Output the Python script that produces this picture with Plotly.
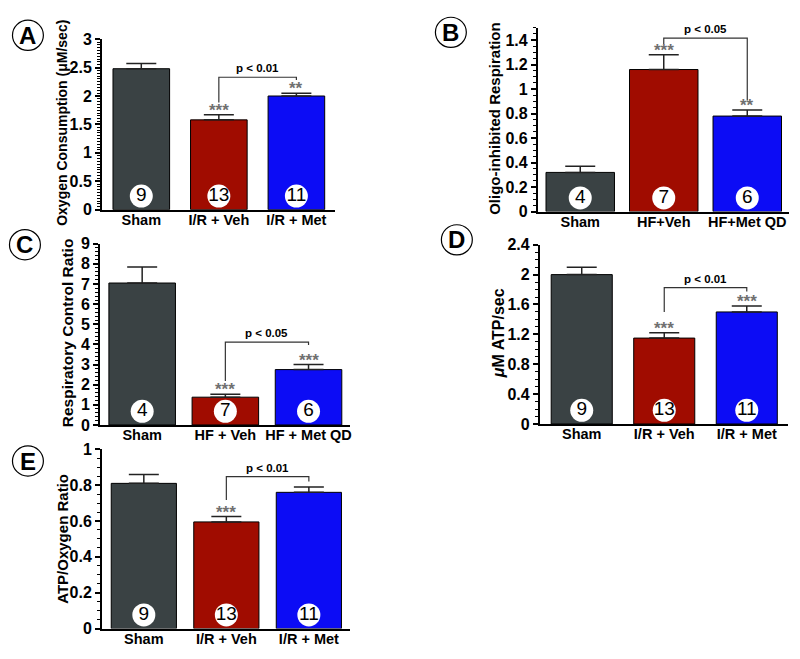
import plotly.graph_objects as go

W, H = 800, 659

# ---------------- data ----------------
cats_A = ["Sham", "I/R + Veh", "I/R + Met"]
vals_A = [2.48, 1.58, 2.00]
errs_A = [0.09, 0.09, 0.05]
n_A = ["9", "13", "11"]
stars_A = ["", "***", "**"]

cats_B = ["Sham", "HF+Veh", "HF+Met QD"]
vals_B = [0.32, 1.16, 0.78]
errs_B = [0.05, 0.12, 0.05]
n_B = ["4", "7", "6"]
stars_B = ["", "***", "**"]

cats_C = ["Sham", "HF + Veh", "HF + Met QD"]
vals_C = [7.05, 1.38, 2.75]
errs_C = [0.80, 0.14, 0.25]
n_C = ["4", "7", "6"]
stars_C = ["", "***", "***"]

cats_D = ["Sham", "I/R + Veh", "I/R + Met"]
vals_D = [2.00, 1.15, 1.50]
errs_D = [0.10, 0.07, 0.08]
n_D = ["9", "13", "11"]
stars_D = ["", "***", "***"]

cats_E = ["Sham", "I/R + Veh", "I/R + Met"]
vals_E = [0.81, 0.595, 0.76]
errs_E = [0.05, 0.03, 0.03]
n_E = ["9", "13", "11"]
stars_E = ["", "***", ""]

colors = ["#3a4244", "#a00c00", "#0c0cf5"]

FONT = "Liberation Sans, Arial, Helvetica, sans-serif"


def fx(px):
    return px / W


def fy(py):
    return 1 - py / H


panels = [
    dict(key="A", cats=cats_A, vals=vals_A, errs=errs_A, n=n_A, stars=stars_A,
         xpx=(102, 336), ypx=(207, 32), yr=(0, 3), dtick=0.5, minor=0.05, bw=0.73,
         title="Oxygen Consumption (μM/sec)", tpos=(62, 118), tsize=14,
         br=(1.886, 2.33, 2.28), ptxt="p < 0.01", letter=(28, 28)),
    dict(key="B", cats=cats_B, vals=vals_B, errs=errs_B, n=n_B, stars=stars_B,
         xpx=(539, 791), ypx=(209, 20.4), yr=(0, 1.5), dtick=0.2, minor=0.05, bw=0.82,
         title="Oligo-inhibited Respiration", tpos=(495, 113), tsize=15,
         br=(1.368, 1.416, 0.907), ptxt="p < 0.05", letter=(452, 25)),
    dict(key="C", cats=cats_C, vals=vals_C, errs=errs_C, n=n_C, stars=stars_C,
         xpx=(100, 351), ypx=(428, 242), yr=(0, 9), dtick=1, minor=0.2, bw=0.80,
         title="Respiratory Control Ratio", tpos=(68, 333), tsize=15.5,
         br=(2.18, 4.11, 3.97), ptxt="p < 0.05", letter=(25, 243)),
    dict(key="D", cats=cats_D, vals=vals_D, errs=errs_D, n=n_D, stars=stars_D,
         xpx=(541, 790), ypx=(427, 243), yr=(0, 2.4), dtick=0.4, minor=0.1, bw=0.74,
         title="<i>μ</i>M ATP/sec", tpos=(500, 334), tsize=16,
         br=(1.50, 1.826, 1.774), ptxt="p < 0.01", letter=(458, 238)),
    dict(key="E", cats=cats_E, vals=vals_E, errs=errs_E, n=n_E, stars=stars_E,
         xpx=(102, 351), ypx=(637, 453), yr=(0, 1), dtick=0.2, minor=0.05, bw=0.79,
         title="ATP/Oxygen Ratio", tpos=(63, 545), tsize=15,
         br=(0.717, 0.848, 0.82), ptxt="p < 0.01", letter=(28, 465)),
]

fig = go.Figure()
shapes = []
annots = []
layout = {}

for i, p in enumerate(panels):
    idx = "" if i == 0 else str(i + 1)
    xa, ya = "x" + idx, "y" + idx
    xs = [0, 1, 2]
    ymax = p["yr"][1]
    px_per_unit = (p["ypx"][0] - p["ypx"][1]) / (ymax - p["yr"][0])

    fig.add_trace(go.Bar(
        x=xs, y=p["vals"], width=p["bw"], xaxis=xa, yaxis=ya,
        marker=dict(color=colors, line=dict(color="black", width=1)),
        error_y=dict(type="data", array=p["errs"], arrayminus=[0, 0, 0], symmetric=False,
                     color="#222222", thickness=1.5, width=15),
        showlegend=False, hoverinfo="skip"))

    # n circles
    ny = 14 / px_per_unit
    fig.add_trace(go.Scatter(
        x=xs, y=[ny] * 3, xaxis=xa, yaxis=ya, mode="markers+text",
        text=p["n"], textposition="middle center",
        textfont=dict(family=FONT, size=19, color="black"),
        marker=dict(size=23, color="white", line=dict(width=0)),
        showlegend=False, hoverinfo="skip", cliponaxis=False))

    # stars
    for j in range(3):
        if p["stars"][j]:
            annots.append(dict(x=xs[j], y=p["vals"][j] + p["errs"][j], xref=xa, yref=ya,
                               text=f"<b>{p['stars'][j]}</b>", showarrow=False,
                               yanchor="bottom", yshift=-7,
                               font=dict(family=FONT, size=17, color="#707070")))

    # bracket
    lb, lev, rb = p["br"]
    shapes.append(dict(type="path", xref=xa, yref=ya,
                       path=f"M 1 {lb} L 1 {lev} L 2 {lev} L 2 {rb}",
                       line=dict(color="#333333", width=1.2)))
    annots.append(dict(x=1.5, y=lev, xref=xa, yref=ya, text=f"<b>{p['ptxt']}</b>",
                       showarrow=False, yanchor="bottom", yshift=1,
                       font=dict(family=FONT, size=11.5, color="black")))

    # axes
    x0, x1 = p["xpx"]
    yb, yt = p["ypx"]
    layout["xaxis" + idx] = dict(
        domain=[fx(x0), fx(x1)], range=[-0.51, 2.5], anchor=ya,
        tickmode="array", tickvals=xs, ticktext=p["cats"],
        ticks="", showline=True, linecolor="black", linewidth=1.5,
        showgrid=False, zeroline=False, fixedrange=True, ticklabelstandoff=-4,
        tickfont=dict(family=FONT, size=14.5, color="black", weight="bold"))
    layout["yaxis" + idx] = dict(
        domain=[fy(yb), fy(yt)], range=list(p["yr"]), anchor=xa,
        dtick=p["dtick"], tick0=0, ticks="outside", ticklen=5, tickwidth=1.5,
        tickcolor="black", showline=True, linecolor="black", linewidth=1.5,
        showgrid=False, zeroline=False, fixedrange=True,
        tickfont=dict(family=FONT, size=16, color="black", weight="bold"),
        tickformat="~g",
        minor=dict(dtick=p["minor"], tick0=0, ticks="outside", ticklen=3,
                   tickwidth=1, tickcolor="black", showgrid=False))

    # y title
    tx, ty = p["tpos"]
    annots.append(dict(x=fx(tx), y=fy(ty), xref="paper", yref="paper",
                       text=f"<b>{p['title']}</b>", textangle=-90, showarrow=False,
                       xanchor="center", yanchor="middle",
                       font=dict(family=FONT, size=p["tsize"], color="black")))

    # panel letter
    lx, ly = p["letter"]
    r = 15.5
    shapes.append(dict(type="circle", xref="paper", yref="paper",
                       x0=fx(lx - r), x1=fx(lx + r),
                       y0=fy(ly + r), y1=fy(ly - r),
                       line=dict(color="black", width=1.2)))
    annots.append(dict(x=fx(lx), y=fy(ly), xref="paper", yref="paper",
                       text=f"<b>{p['key']}</b>", showarrow=False,
                       xanchor="center", yanchor="middle",
                       font=dict(family=FONT, size=24, color="black")))

fig.update_layout(
    width=W, height=H, margin=dict(l=0, r=0, t=0, b=0),
    paper_bgcolor="white", plot_bgcolor="white",
    shapes=shapes, annotations=annots, **layout)

fig.write_html("out.html", config={"displayModeBar": False},
               post_script="document.body.style.margin='0px';"
                           "document.body.style.overflow='hidden';")
